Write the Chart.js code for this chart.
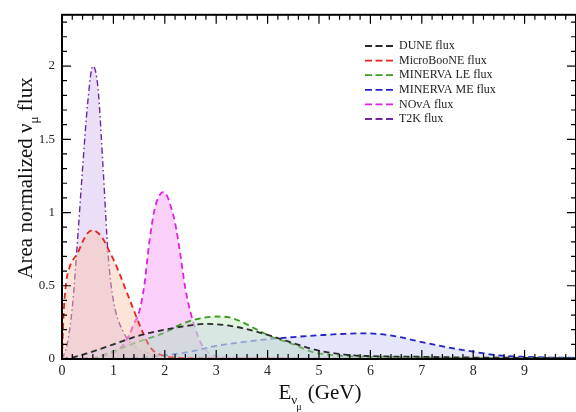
<!DOCTYPE html>
<html>
<head>
<meta charset="utf-8">
<script src="https://cdn.jsdelivr.net/npm/chart.js@4.4.1/dist/chart.umd.min.js"></script>
<style>
  html, body { margin: 0; padding: 0; background: #fff; }
  #wrap { width: 576px; height: 412px; }
</style>
</head>
<body>
<div id="wrap"><canvas id="flux"></canvas></div>
<script>
// values (E in GeV, flux area normalized)
var labels = ['DUNE flux', 'MicroBooNE flux', 'MINERVA LE flux', 'MINERVA ME flux', 'NOvA flux', 'T2K flux'];

var duneE    = [0, 0.2, 0.5, 1.0, 1.5, 2.0, 2.5, 2.8, 3.3, 3.8, 4.4, 4.9, 5.5, 6, 7, 8, 9, 10];
var duneFlux = [0, 0.01, 0.04, 0.1, 0.16, 0.2, 0.23, 0.24, 0.225, 0.185, 0.12, 0.065, 0.03, 0.02, 0.015, 0.01, 0.008, 0.005];

var booneE    = [0, 0.03, 0.08, 0.15, 0.2, 0.3, 0.4, 0.5, 0.6, 0.7, 0.8, 0.9, 1.0, 1.1, 1.2, 1.3, 1.4, 1.5, 1.6, 1.7, 1.8, 2.0, 2.2, 2.5, 3, 4, 5];
var booneFlux = [0, 0.3, 0.52, 0.63, 0.67, 0.72, 0.8, 0.86, 0.88, 0.86, 0.82, 0.75, 0.68, 0.6, 0.51, 0.42, 0.33, 0.24, 0.16, 0.09, 0.05, 0.02, 0.01, 0.005, 0.003, 0.002, 0.001];

var leE    = [0, 0.6, 0.9, 1.5, 2.0, 2.3, 2.6, 3.0, 3.3, 3.8, 4.05, 4.5, 4.9, 5.5, 6, 7, 8, 10];
var leFlux = [0, 0.005, 0.04, 0.12, 0.18, 0.235, 0.27, 0.29, 0.28, 0.2, 0.155, 0.1, 0.045, 0.02, 0.015, 0.01, 0.006, 0.003];

var meE    = [0, 1.0, 1.5, 2.0, 2.5, 3.0, 3.5, 4.0, 4.5, 5.0, 5.5, 5.9, 6.5, 7.0, 7.5, 8.0, 8.5, 9.0, 9.5, 10];
var meFlux = [0, 0.002, 0.01, 0.025, 0.05, 0.09, 0.115, 0.135, 0.15, 0.162, 0.172, 0.175, 0.155, 0.115, 0.08, 0.05, 0.025, 0.015, 0.01, 0.008];

var novaE    = [0, 0.5, 1.0, 1.2, 1.3, 1.4, 1.5, 1.6, 1.7, 1.8, 1.9, 1.97, 2.05, 2.1, 2.2, 2.3, 2.4, 2.5, 2.6, 2.7, 2.8, 2.9, 3.0, 3.5, 4, 6, 8, 10];
var novaFlux = [0, 0.005, 0.04, 0.1, 0.16, 0.24, 0.32, 0.5, 0.8, 1.02, 1.12, 1.14, 1.11, 1.06, 0.93, 0.72, 0.48, 0.32, 0.2, 0.11, 0.06, 0.03, 0.02, 0.01, 0.008, 0.005, 0.003, 0.002];

var t2kE    = [0, 0.1, 0.2, 0.3, 0.4, 0.5, 0.6, 0.7, 0.8, 0.9, 1.0, 1.2, 1.4, 1.6, 1.8, 2.0, 2.5, 3, 4, 6, 8, 10];
var t2kFlux = [0, 0.1, 0.35, 0.8, 1.3, 1.75, 2.0, 1.85, 1.3, 0.7, 0.4, 0.18, 0.09, 0.05, 0.03, 0.02, 0.01, 0.008, 0.005, 0.003, 0.002, 0.001];

var xTicks = [0, 1, 2, 3, 4, 5, 6, 7, 8, 9];
var yTicks = [0, 0.5, 1, 1.5, 2];

function pts(xs, ys) {
  return xs.map(function(x, i) { return {x: x, y: ys[i]}; });
}

var serif = '"Liberation Serif", "DejaVu Serif", serif';

function series(label, xs, ys, line, fill, dash, width) {
  return {
    label: label,
    data: pts(xs, ys),
    borderColor: line,
    backgroundColor: fill,
    borderDash: dash,
    borderWidth: width,
    fill: 'origin',
    pointRadius: 0,
    cubicInterpolationMode: 'monotone'
  };
}

var datasets = [
  series(labels[0], duneE, duneFlux, '#2a2a2a', 'rgba(200,205,225,0.35)', [6, 4], 1.8),
  series(labels[1], booneE, booneFlux, '#e3231c', 'rgba(250,195,170,0.45)', [6, 4], 1.8),
  series(labels[2], leE, leFlux, '#3f9a1e', 'rgba(195,235,195,0.5)', [6, 4], 1.8),
  series(labels[3], meE, meFlux, '#2323c8', 'rgba(205,205,245,0.5)', [6, 4], 1.8),
  series(labels[4], novaE, novaFlux, '#e020dc', 'rgba(245,160,245,0.5)', [6, 4], 1.8),
  series(labels[5], t2kE, t2kFlux, '#6b2a9c', 'rgba(215,190,240,0.5)', [6, 3, 1.5, 3], 1.4)
];

// frame, inward ticks, axis titles with subscripts, legend
var decor = {
  id: 'decor',
  afterDraw: function(chart) {
    var ctx = chart.ctx, a = chart.chartArea;
    var xs = chart.scales.x, ys = chart.scales.y;
    ctx.save();
    ctx.strokeStyle = '#000';
    ctx.lineWidth = 1.2;
    ctx.beginPath();
    for (var v = 0; v <= 10.001; v += 0.2) {
      var px = xs.getPixelForValue(v);
      var major = Math.abs(v - Math.round(v)) < 0.01;
      var len = major ? 9 : 5;
      ctx.moveTo(px, a.bottom); ctx.lineTo(px, a.bottom - len);
      ctx.moveTo(px, a.top); ctx.lineTo(px, a.top + len);
    }
    for (var w = 0; w <= 2.35; w += 0.1) {
      var py = ys.getPixelForValue(w);
      var majorY = Math.abs(w * 2 - Math.round(w * 2)) < 0.01;
      var lenY = majorY ? 9 : 5;
      ctx.moveTo(a.left, py); ctx.lineTo(a.left + lenY, py);
      ctx.moveTo(a.right, py); ctx.lineTo(a.right - lenY, py);
    }
    ctx.stroke();
    ctx.lineWidth = 2;
    ctx.strokeRect(a.left, a.top, a.right - a.left, a.bottom - a.top);

    // x title
    ctx.fillStyle = '#111';
    ctx.textBaseline = 'alphabetic';
    ctx.textAlign = 'left';
    var big = '21px ' + serif, sub = '13px ' + serif, sub2 = '10px ' + serif;
    ctx.font = big; var wE = ctx.measureText('E').width;
    ctx.font = sub; var wNu = ctx.measureText('\u03bd').width;
    ctx.font = sub2; var wMu = ctx.measureText('\u03bc').width;
    ctx.font = big; var wG = ctx.measureText(' (GeV)').width;
    var total = wE + wNu + wMu + wG;
    var x0 = (a.left + a.right) / 2 - total / 2 + 1, yb = 399;
    ctx.font = big; ctx.fillText('E', x0, yb);
    ctx.font = sub; ctx.fillText('\u03bd', x0 + wE, yb + 5);
    ctx.font = sub2; ctx.fillText('\u03bc', x0 + wE + wNu - 1, yb + 11);
    ctx.font = big; ctx.fillText(' (GeV)', x0 + wE + wNu + wMu, yb);

    // y title
    ctx.save();
    ctx.translate(32, 178);
    ctx.rotate(-Math.PI / 2);
    ctx.font = big; var w1 = ctx.measureText('Area normalized \u03bd').width;
    ctx.font = sub; var w2 = ctx.measureText('\u03bc').width;
    ctx.font = big; var w3 = ctx.measureText(' flux').width;
    var s = -(w1 + w2 + w3) / 2;
    ctx.font = big; ctx.fillText('Area normalized \u03bd', s, 0);
    ctx.font = sub; ctx.fillText('\u03bc', s + w1, 6);
    ctx.font = big; ctx.fillText(' flux', s + w1 + w2, 0);
    ctx.restore();

    // legend
    ctx.font = '12px ' + serif;
    ctx.textBaseline = 'middle';
    chart.data.datasets.forEach(function(ds, i) {
      var ly = 46 + i * 14.6;
      ctx.strokeStyle = ds.borderColor;
      ctx.lineWidth = 1.8;
      ctx.setLineDash([7, 3.5]);
      ctx.beginPath();
      ctx.moveTo(365, ly); ctx.lineTo(393, ly);
      ctx.stroke();
      ctx.setLineDash([]);
      ctx.fillStyle = '#222';
      ctx.fillText(ds.label, 399, ly);
    });
    ctx.restore();
  }
};

new Chart(document.getElementById('flux'), {
  type: 'line',
  data: { datasets: datasets },
  plugins: [decor],
  options: {
    responsive: true,
    maintainAspectRatio: false,
    animation: false,
    layout: { padding: { top: 12, right: 0, left: 0, bottom: 0 } },
    plugins: {
      legend: { display: false },
      tooltip: { enabled: false }
    },
    scales: {
      x: {
        type: 'linear',
        min: 0,
        max: 10,
        grid: { display: false, drawTicks: false },
        border: { display: false },
        afterFit: function(scale) { scale.height = 53; },
        afterBuildTicks: function(scale) {
          scale.ticks = xTicks.map(function(v) { return {value: v}; });
        },
        ticks: {
          padding: 4,
          color: '#222',
          maxRotation: 0,
          font: { family: serif, size: 14 },
          callback: function(v) { return String(v); }
        }
      },
      y: {
        min: 0,
        max: 2.35,
        grid: { display: false, drawTicks: false },
        border: { display: false },
        afterFit: function(scale) { scale.width = 62; },
        afterBuildTicks: function(scale) {
          scale.ticks = yTicks.map(function(v) { return {value: v}; });
        },
        ticks: {
          padding: 7,
          color: '#222',
          font: { family: serif, size: 13 },
          callback: function(v) { return String(v); }
        }
      }
    }
  }
});
</script>
</body>
</html>
